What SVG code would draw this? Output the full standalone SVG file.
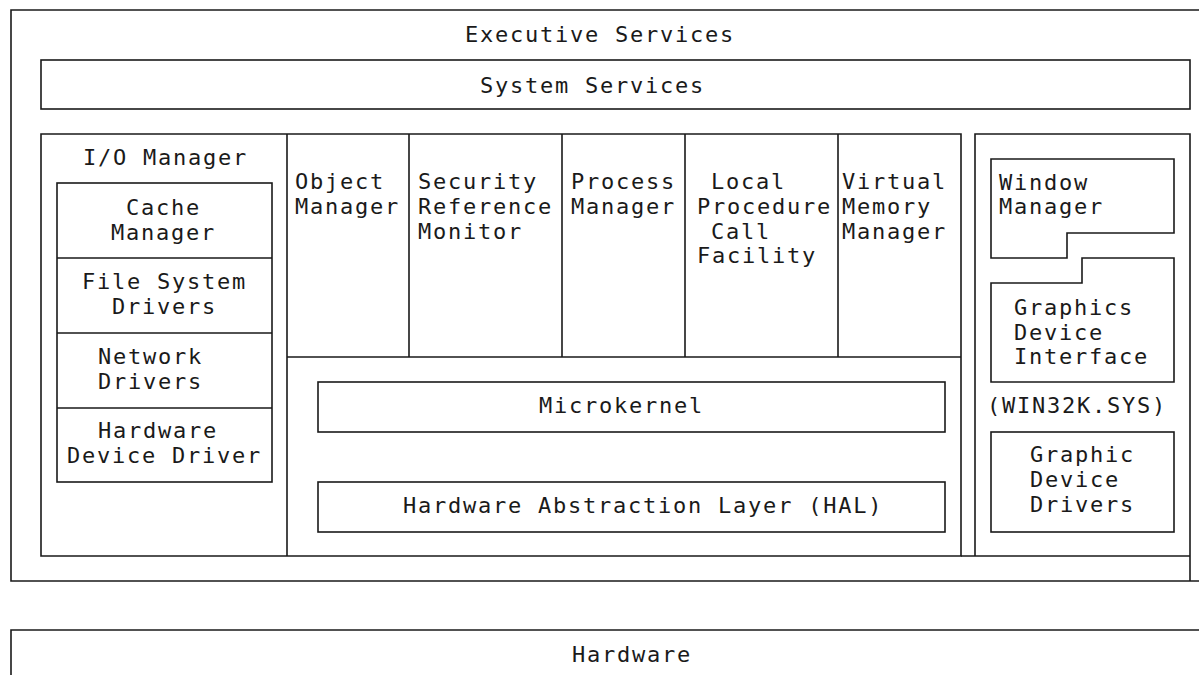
<svg xmlns="http://www.w3.org/2000/svg" width="1199" height="675" viewBox="0 0 1199 675">
  <style>
    .box { fill: none; stroke: #1a1a1a; stroke-width: 1.6; }
    .t { font-family: "DejaVu Sans Mono", "Liberation Mono", monospace; font-size: 22px; letter-spacing: 1.76px; fill: #1a1a1a; }
  </style>
  <rect width="1199" height="675" fill="#ffffff"/>

  <!-- Executive services frame (open on the right) -->
  <g id="executive">
    <path class="box" d="M1199,10 H11 V581 H1199"/>
    <text class="t" x="465" y="42">Executive Services</text>
  </g>

  <g id="system-services">
    <rect class="box" x="41" y="60" width="1149" height="49"/>
    <text class="t" x="480" y="93">System Services</text>
  </g>

  <!-- Kernel-mode block outline and column rules -->
  <g id="kernel-block">
    <path class="box" d="M41,134 H961 V556 H41 Z"/>
    <path class="box" d="M287,134 V556 M287,357 H961 M409,134 V357 M562,134 V357 M685,134 V357 M838,134 V357"/>
  </g>

  <g id="io-manager">
    <text class="t" x="83" y="165">I/O Manager</text>
  </g>
  <g id="io-stack">
    <rect class="box" x="57" y="183" width="215" height="299"/>
    <path class="box" d="M57,258 H272 M57,333 H272 M57,408 H272"/>
  </g>
  <g id="cache-manager">
    <text class="t" x="126" y="215">Cache</text>
    <text class="t" x="111" y="240">Manager</text>
  </g>
  <g id="file-system-drivers">
    <text class="t" x="82" y="289">File System</text>
    <text class="t" x="112" y="314">Drivers</text>
  </g>
  <g id="network-drivers">
    <text class="t" x="98" y="364">Network</text>
    <text class="t" x="98" y="389">Drivers</text>
  </g>
  <g id="hardware-device-driver">
    <text class="t" x="98" y="438">Hardware</text>
    <text class="t" x="67" y="463">Device Driver</text>
  </g>

  <g id="object-manager">
    <text class="t" x="295" y="189">Object</text>
    <text class="t" x="295" y="214">Manager</text>
  </g>
  <g id="security-reference-monitor">
    <text class="t" x="418" y="189">Security</text>
    <text class="t" x="418" y="214">Reference</text>
    <text class="t" x="418" y="239">Monitor</text>
  </g>
  <g id="process-manager">
    <text class="t" x="571" y="189">Process</text>
    <text class="t" x="571" y="214">Manager</text>
  </g>
  <g id="lpc-facility">
    <text class="t" x="711" y="189">Local</text>
    <text class="t" x="697" y="214">Procedure</text>
    <text class="t" x="711" y="239">Call</text>
    <text class="t" x="697" y="263">Facility</text>
  </g>
  <g id="virtual-memory-manager">
    <text class="t" x="842" y="189">Virtual</text>
    <text class="t" x="842" y="214">Memory</text>
    <text class="t" x="842" y="239">Manager</text>
  </g>

  <g id="microkernel">
    <rect class="box" x="318" y="382" width="627" height="50"/>
    <text class="t" x="539" y="413">Microkernel</text>
  </g>
  <g id="hal">
    <rect class="box" x="318" y="482" width="627" height="50"/>
    <text class="t" x="403" y="513">Hardware Abstraction Layer (HAL)</text>
  </g>

  <!-- WIN32K.SYS column -->
  <g id="win32k">
    <path class="box" d="M975,556 V134 H1190 V581 M961,556 H1190"/>
    <text class="t" x="987" y="413">(WIN32K.SYS)</text>
  </g>
  <g id="window-manager">
    <path class="box" d="M991,159 H1174 V233 H1067 V258 H991 Z"/>
    <text class="t" x="999" y="190">Window</text>
    <text class="t" x="999" y="214">Manager</text>
  </g>
  <g id="gdi">
    <path class="box" d="M1082,258 H1174 V382 H991 V283 H1082 Z"/>
    <text class="t" x="1014" y="315">Graphics</text>
    <text class="t" x="1014" y="340">Device</text>
    <text class="t" x="1014" y="364">Interface</text>
  </g>
  <g id="graphic-device-drivers">
    <rect class="box" x="991" y="432" width="183" height="100"/>
    <text class="t" x="1030" y="462">Graphic</text>
    <text class="t" x="1030" y="487">Device</text>
    <text class="t" x="1030" y="512">Drivers</text>
  </g>

  <g id="hardware">
    <path class="box" d="M1199,630 H11 V675"/>
    <text class="t" x="572" y="662">Hardware</text>
  </g>
</svg>
